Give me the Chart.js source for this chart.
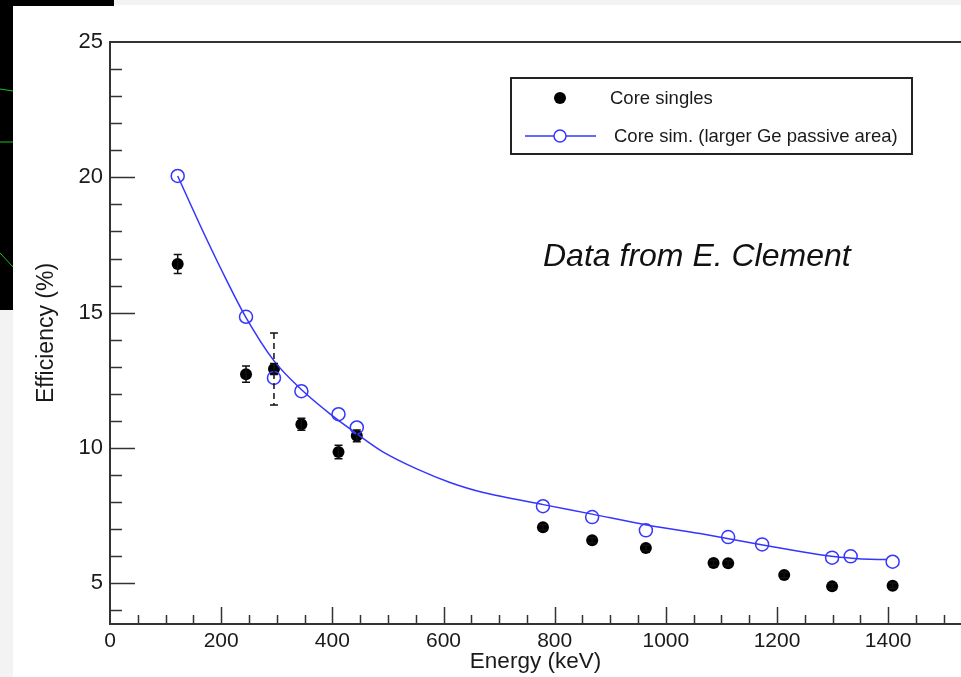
<!DOCTYPE html>
<html>
<head>
<meta charset="utf-8">
<title>Efficiency vs Energy</title>
<script src="https://cdn.jsdelivr.net/npm/chart.js@4.4.0/dist/chart.umd.min.js"></script>
<style>
    body { margin: 0; background: #fff; }
    #box { position: relative; width: 961px; height: 677px; }
</style>
</head>
<body>
<div id="box"><canvas id="grafico-eff"></canvas></div>
<script>
// dati misurati (core singles) - energia in keV, efficienza in %
var singlesE   = [121.8, 244.7, 295.0, 344.3, 411.1, 444.0, 778.9, 867.4, 964.1, 1085.8, 1112.1, 1212.9, 1299.1, 1408.0];
var singlesEff = [16.80, 12.73, 12.92, 10.88, 9.85, 10.45, 7.07, 6.59, 6.31, 5.75, 5.74, 5.31, 4.89, 4.91];
var singlesErr = [0.35, 0.30, 0.20, 0.22, 0.25, 0.22, 0.10, 0.10, 0.10, 0.10, 0.10, 0.10, 0.10, 0.10];
var singlesSys = [0, 0, 1.33, 0, 0, 0, 0, 0, 0, 0, 0, 0, 0, 0];   // barra tratteggiata

// simulazione (cerchi vuoti)
var simE   = [121.8, 244.7, 295.0, 344.3, 411.1, 444.0, 778.9, 867.4, 964.1, 1112.1, 1173.2, 1299.1, 1332.5, 1408.0];
var simEff = [20.05, 14.85, 12.59, 12.10, 11.25, 10.76, 7.85, 7.45, 6.96, 6.71, 6.44, 5.95, 6.00, 5.80];

// curva del fit letta punto per punto
var fitE   = [121.8, 161.9, 201.5, 244.2, 295.1, 344.2, 395.8, 444.4, 491.7, 551.8, 611.7, 671.6, 779.6, 869.6, 965.6, 1061.5, 1174.3, 1241.5, 1301.4, 1334.5, 1367.4, 1397.5];
var fitEff = [20.05, 18.24, 16.54, 14.84, 13.22, 12.16, 11.26, 10.52, 9.85, 9.23, 8.73, 8.36, 7.91, 7.55, 7.16, 6.84, 6.42, 6.18, 5.99, 5.93, 5.89, 5.88];

// etichette assi
var energyTicks = [0, 200, 400, 600, 800, 1000, 1200, 1400];
var effTicks = [5, 10, 15, 20, 25];

var FONT = "'Liberation Sans', Arial, Helvetica, sans-serif";
var BLU = '#3535ff';

function punti(xs, ys) {
    var out = [];
    for (var i = 0; i < xs.length; i++) {
        out.push({ x: xs[i], y: ys[i] });
    }
    return out;
}

// sfondo: bordo nero della slide in alto a sinistra
var sfondo = {
    id: 'sfondo',
    beforeDraw: function (chart) {
        var c = chart.ctx;
        c.save();
        c.fillStyle = '#fff';
        c.fillRect(0, 0, chart.width, chart.height);
        c.fillStyle = '#f3f3f3';
        c.fillRect(114, 0, chart.width - 114, 5);
        c.fillRect(0, 310, 13, chart.height - 310);
        c.fillStyle = '#000';
        c.fillRect(0, 0, 114, 6);
        c.fillRect(0, 0, 13, 310);
        c.strokeStyle = '#1fc21f';
        c.lineWidth = 1;
        c.beginPath();
        c.moveTo(0, 89); c.lineTo(13, 91);
        c.moveTo(0, 142); c.lineTo(13, 142);
        c.moveTo(0, 253); c.lineTo(13, 267);
        c.stroke();
        c.restore();
    }
};

// tacche interne, barre d'errore, legenda e scritta
var extra = {
    id: 'extra',
    afterDatasetsDraw: function (chart) {
        var c = chart.ctx;
        var xs = chart.scales.x, ys = chart.scales.y;
        c.save();
        c.strokeStyle = '#111';
        c.lineWidth = 1.5;
        for (var i = 0; i < singlesE.length; i++) {
            var px = xs.getPixelForValue(singlesE[i]);
            var top = ys.getPixelForValue(singlesEff[i] + singlesErr[i]);
            var bot = ys.getPixelForValue(singlesEff[i] - singlesErr[i]);
            c.beginPath();
            c.moveTo(px, top); c.lineTo(px, bot);
            c.moveTo(px - 4, top); c.lineTo(px + 4, top);
            c.moveTo(px - 4, bot); c.lineTo(px + 4, bot);
            c.stroke();
            if (singlesSys[i] > 0) {
                var t2 = ys.getPixelForValue(singlesEff[i] + singlesSys[i]);
                var b2 = ys.getPixelForValue(singlesEff[i] - singlesSys[i]);
                c.setLineDash([6, 4]);
                c.beginPath();
                c.moveTo(px, t2); c.lineTo(px, b2);
                c.stroke();
                c.setLineDash([]);
                c.beginPath();
                c.moveTo(px - 4, t2); c.lineTo(px + 4, t2);
                c.moveTo(px - 4, b2); c.lineTo(px + 4, b2);
                c.stroke();
            }
        }
        c.restore();
    },
    afterDraw: function (chart) {
        var c = chart.ctx;
        var a = chart.chartArea;
        var xs = chart.scales.x, ys = chart.scales.y;
        c.save();
        c.strokeStyle = '#333';
        c.lineWidth = 2;
        // bordo superiore
        c.beginPath();
        c.moveTo(a.left, a.top); c.lineTo(a.right, a.top);
        c.stroke();

        c.lineWidth = 1.5;
        c.beginPath();
        for (var e = 50; e <= 1500; e += 50) {
            var px = Math.round(xs.getPixelForValue(e)) + 0.5;
            var len = (e % 200 === 0) ? 17 : 9;
            c.moveTo(px, a.bottom); c.lineTo(px, a.bottom - len);
        }
        for (var v = 4; v < 25; v++) {
            var py = Math.round(ys.getPixelForValue(v)) + 0.5;
            var l2 = (v % 5 === 0) ? 25 : 12;
            c.moveTo(a.left, py); c.lineTo(a.left + l2, py);
        }
        c.stroke();

        // legenda
        c.lineWidth = 2;
        c.strokeStyle = '#222';
        c.strokeRect(511, 78, 401, 76);
        c.fillStyle = '#000';
        c.beginPath();
        c.arc(560, 98, 6, 0, Math.PI * 2);
        c.fill();
        c.strokeStyle = BLU;
        c.lineWidth = 1.5;
        c.beginPath();
        c.moveTo(525, 136); c.lineTo(596, 136);
        c.stroke();
        c.fillStyle = '#fff';
        c.beginPath();
        c.arc(560, 136, 6, 0, Math.PI * 2);
        c.fill();
        c.stroke();
        c.fillStyle = '#1a1a1a';
        c.font = '18.5px ' + FONT;
        c.textBaseline = 'middle';
        c.fillText('Core singles', 610, 99);
        c.fillText('Core sim. (larger Ge passive area)', 614, 137);

        c.font = 'italic 32px ' + FONT;
        c.fillStyle = '#111';
        c.fillText('Data from E. Clement', 543, 257);
        c.restore();
    }
};

var ctx = document.getElementById('grafico-eff').getContext('2d');
var chart = new Chart(ctx, {
    type: 'scatter',
    data: {
        datasets: [{
            label: 'fit',
            type: 'line',
            data: punti(fitE, fitEff),
            borderColor: BLU,
            borderWidth: 1.5,
            pointRadius: 0,
            fill: false,
            tension: 0.3
        }, {
            label: 'Core sim. (larger Ge passive area)',
            data: punti(simE, simEff),
            pointRadius: 6.5,
            pointBorderWidth: 1.5,
            pointBorderColor: BLU,
            pointBackgroundColor: 'rgba(255,255,255,0)'
        }, {
            label: 'Core singles',
            data: punti(singlesE, singlesEff),
            pointRadius: 6,
            pointBorderWidth: 0,
            pointBackgroundColor: '#000'
        }]
    },
    options: {
        responsive: true,
        maintainAspectRatio: false,
        animation: false,
        events: [],
        layout: { autoPadding: false, padding: { top: 42, right: 0, left: 0, bottom: 0 } },
        plugins: {
            legend: { display: false },
            tooltip: { enabled: false }
        },
        scales: {
            x: {
                type: 'linear',
                min: 0,
                max: 1531,
                grid: { display: false, drawTicks: false },
                border: { display: true, color: '#333', width: 2 },
                afterBuildTicks: function (scale) {
                    scale.ticks = energyTicks.map(function (v) { return { value: v }; });
                },
                afterFit: function (scale) {
                    scale.height = 53;
                    scale.paddingLeft = 0;
                    scale.paddingRight = 0;
                },
                ticks: {
                    padding: 5,
                    color: '#1a1a1a',
                    font: { family: FONT, size: 21 },
                    maxRotation: 0,
                    callback: function (v) { return String(v); }
                },
                title: {
                    display: true,
                    text: 'Energy (keV)',
                    color: '#1a1a1a',
                    font: { family: FONT, size: 22.5 },
                    padding: { top: 0, bottom: 2 }
                }
            },
            y: {
                type: 'linear',
                min: 3.5,
                max: 25,
                grid: { display: false, drawTicks: false },
                border: { display: true, color: '#333', width: 2 },
                afterBuildTicks: function (scale) {
                    scale.ticks = effTicks.map(function (v) { return { value: v }; });
                },
                afterFit: function (scale) {
                    scale.width = 110;
                    scale.paddingTop = 0;
                    scale.paddingBottom = 0;
                },
                ticks: {
                    padding: 7,
                    color: '#1a1a1a',
                    font: { family: FONT, size: 22 },
                    callback: function (v) { return String(v); }
                },
                title: {
                    display: true,
                    text: 'Efficiency (%)',
                    color: '#1a1a1a',
                    font: { family: FONT, size: 23 },
                    padding: { top: 33, bottom: 0 }
                }
            }
        }
    },
    plugins: [sfondo, extra]
});
</script>
</body>
</html>
